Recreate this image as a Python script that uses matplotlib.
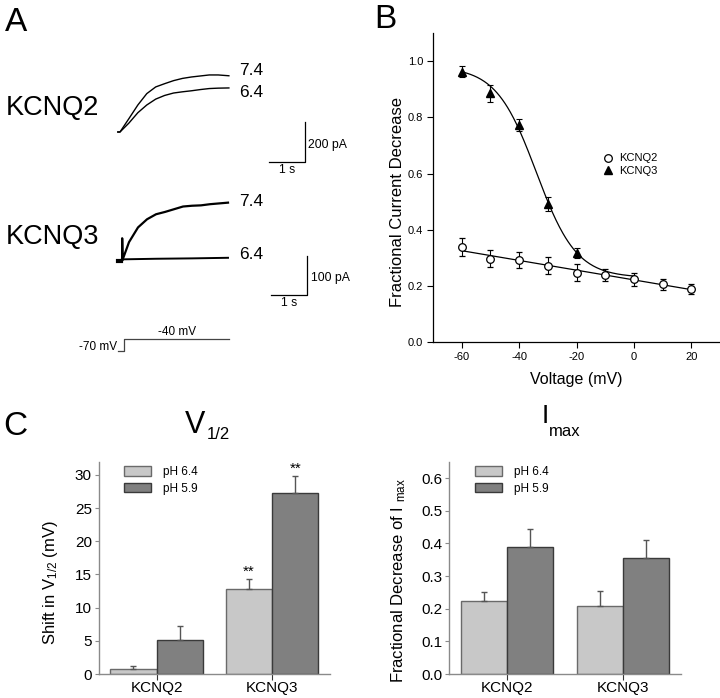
import numpy as np
import matplotlib
matplotlib.use('Agg')
import matplotlib.pyplot as plt
from matplotlib.lines import Line2D

plt.rcParams['font.family'] = ['Liberation Sans', 'DejaVu Sans']
plt.rcParams['mathtext.fontset'] = 'custom'
plt.rcParams['mathtext.rm'] = 'Liberation Sans'
plt.rcParams['mathtext.it'] = 'Liberation Sans:italic'

# ---------------- Data ----------------
# Panel A: current traces (time in s, current in pA)
q2_t = [-0.06, 0.0, 0.25, 0.5, 0.75, 1.0, 1.25, 1.5, 1.75, 2.0, 2.25, 2.5, 2.75, 3.05]
q2_i74 = [0, 0, 66, 133, 189, 222, 238, 253, 264, 271, 276, 281, 281, 277]
q2_i64 = [0, 0, 44, 95, 133, 162, 180, 192, 198, 203, 209, 214, 216, 217]

q3_t74 = [-0.06, 0.06, 0.06, 0.07, 0.25, 0.5, 0.75, 1.0, 1.25, 1.5, 1.75, 2.0, 2.25, 2.5, 2.75, 3.0]
q3_i74 = [0, 0, 58, 2, 48, 86, 107, 120, 126, 133, 140, 142, 143, 146, 148, 150]
q3_t64 = [-0.06, 0.07, 1.0, 2.0, 3.0]
q3_i64 = [0, 3.5, 5, 6, 7.5]

prot_t = [-0.05, 0.11, 0.11, 3.06]
prot_v = [-70, -70, -40, -40]

# Panel B
volt_q2 = [-60, -50, -40, -30, -20, -10, 0, 10, 20]
frac_q2 = [0.338, 0.297, 0.294, 0.273, 0.248, 0.239, 0.224, 0.206, 0.190]
err_q2 = [0.032, 0.030, 0.028, 0.030, 0.030, 0.022, 0.024, 0.020, 0.018]
volt_q3 = [-60, -50, -40, -30, -20]
frac_q3 = [0.962, 0.885, 0.773, 0.493, 0.319]
err_q3 = [0.020, 0.031, 0.022, 0.025, 0.018]
# Boltzmann fit parameters for KCNQ3
b_top, b_bot, b_v50, b_k = 0.98, 0.23, -34.0, 7.0

# Panel C
channels = ['KCNQ2', 'KCNQ3']
conds = ['pH 6.4', 'pH 5.9']
v12_64 = [0.8, 12.8]
v12_64_err = [0.4, 1.5]
v12_59 = [5.2, 27.3]
v12_59_err = [2.1, 2.6]
imax_64 = [0.222, 0.209]
imax_64_err = [0.030, 0.046]
imax_59 = [0.389, 0.356]
imax_59_err = [0.056, 0.053]

# ---------------- Figure ----------------
W, H = 720, 698
fig = plt.figure(figsize=(W / 100, H / 100), dpi=100)


def ax_px(x0, y0, x1, y1):
    return fig.add_axes([x0 / W, 1 - y1 / H, (x1 - x0) / W, (y1 - y0) / H])


def ftext(x, y, s, **kw):
    fig.text(x / W, 1 - y / H, s, **kw)


# Panel letters
ftext(5, 31, 'A', fontsize=24, va='baseline')
ftext(374, 28, 'B', fontsize=24, va='baseline')
ftext(3, 435, 'C', fontsize=24, va='baseline')

# ---- Panel A ----
ftext(6, 108, 'KCNQ2', fontsize=19.5, va='center')
ftext(6, 237, 'KCNQ3', fontsize=19.5, va='center')

a2 = ax_px(100, 55, 340, 180)
a2.set_xlim(-0.560, 6.162)
a2.set_ylim(-236.5, 379.3)
a2.axis('off')
a2.plot(q2_t, q2_i74, color='black', lw=1.0)
a2.plot(q2_t, q2_i64, color='black', lw=1.0)
a2.text(3.33, 304, '7.4', fontsize=12.5, va='center', ha='left')
a2.text(3.33, 197, '6.4', fontsize=12.5, va='center', ha='left')
a2.plot([4.18, 5.18, 5.18], [-149.3, -149.3, 50.7], color='black', lw=0.9)
a2.text(5.27, -64, '200 pA', fontsize=8.8, va='center', ha='left')
a2.text(4.68, -189, '1 s', fontsize=8.8, va='center', ha='center')

a3 = ax_px(100, 185, 340, 310)
a3.set_xlim(-0.556, 6.111)
a3.set_ylim(-127.4, 195.6)
a3.axis('off')
a3.plot(q3_t74, q3_i74, color='black', lw=1.6)
a3.plot(q3_t64, q3_i64, color='black', lw=1.4)
a3.plot([-0.06, 0.04], [0, 0], color='black', lw=3)
a3.text(3.31, 152, '7.4', fontsize=12.5, va='center', ha='left')
a3.text(3.31, 15, '6.4', fontsize=12.5, va='center', ha='left')
a3.plot([4.19, 5.19, 5.19], [-87.9, -87.9, 12.1], color='black', lw=0.9)
a3.text(5.30, -45.5, '100 pA', fontsize=8.8, va='center', ha='left')
a3.text(4.69, -110, '1 s', fontsize=8.8, va='center', ha='center')

ap = ax_px(60, 320, 240, 360)
ap.set_xlim(-1.681, 3.361)
ap.set_ylim(-94.5, 10.8)
ap.axis('off')
ap.plot(prot_t, prot_v, color='#444444', lw=0.9)
ap.text(-0.09, -60, '-70 mV', fontsize=8.5, va='center', ha='right')
ap.text(1.59, -20, '-40 mV', fontsize=8.5, va='center', ha='center')

# ---- Panel B ----
ab = ax_px(433, 33, 720, 342.3)
ab.set_xlim(-70, 30)
ab.set_ylim(0, 1.1)
for s in ['top', 'right']:
    ab.spines[s].set_visible(False)
for s in ['left', 'bottom']:
    ab.spines[s].set_linewidth(0.9)
ab.tick_params(direction='out', length=4, width=0.8, labelsize=8, pad=3)
ab.set_xticks([-60, -40, -20, 0, 20])
ab.set_xticklabels(['-60', '-40', '-20', '0', '20'])
ab.set_yticks([0.0, 0.2, 0.4, 0.6, 0.8, 1.0])
ab.set_yticklabels(['0.0', '0.2', '0.4', '0.6', '0.8', '1.0'])

coef = np.polyfit(volt_q2, frac_q2, 1)
vl = np.array([min(volt_q2), max(volt_q2)])
ab.plot(vl, np.polyval(coef, vl), color='black', lw=0.9)
vv = np.linspace(-60, 0, 200)
ab.plot(vv, b_bot + (b_top - b_bot) / (1 + np.exp((vv - b_v50) / b_k)), color='black', lw=0.9)

ab.errorbar(volt_q3, frac_q3, yerr=err_q3, fmt='^', color='black', mfc='black', ms=6,
            capsize=2, elinewidth=0.8, capthick=0.8, zorder=3)
ab.errorbar(volt_q2, frac_q2, yerr=err_q2, fmt='o', color='black', mfc='white', ms=5.5,
            mew=0.9, capsize=2, elinewidth=0.8, capthick=0.8, zorder=4)
handles = [Line2D([], [], ls='none', marker='o', color='black', mfc='white', ms=5.5, mew=0.9),
           Line2D([], [], ls='none', marker='^', color='black', mfc='black', ms=6)]
ab.legend(handles, ['KCNQ2', 'KCNQ3'], loc='upper left', bbox_to_anchor=(0.574, 0.625),
          frameon=False, fontsize=8, handlelength=1.0, handletextpad=0.5,
          labelspacing=0.25, borderaxespad=0)
ab.set_xlabel('Voltage (mV)', fontsize=11.5, labelpad=7)
ab.set_ylabel('Fractional Current Decrease', fontsize=12)
ab.yaxis.set_label_coords(-0.096, 0.454)

# ---- Panel C ----
light = '#c8c8c8'
dark = '#808080'
edge_l = '#6a6a6a'
edge_d = '#3a3a3a'
spine_c = '#8a8a8a'
x = np.arange(len(channels))
bw = 0.4


def bar_panel(ax, v64, e64, v59, e59, ylim, yticks, ylabels, ylabel):
    ax.set_xlim(-0.5, 1.5)
    ax.set_ylim(*ylim)
    ax.bar(x - bw / 2, v64, bw, color=light, edgecolor=edge_l, linewidth=1.0,
           yerr=[np.zeros(len(v64)), e64], capsize=2,
           error_kw=dict(ecolor='#555555', elinewidth=1.0, capthick=1.0), label=conds[0])
    ax.bar(x + bw / 2, v59, bw, color=dark, edgecolor=edge_d, linewidth=1.0,
           yerr=[np.zeros(len(v59)), e59], capsize=2,
           error_kw=dict(ecolor='#555555', elinewidth=1.0, capthick=1.0), label=conds[1])
    for s in ['top', 'right']:
        ax.spines[s].set_visible(False)
    for s in ['left', 'bottom']:
        ax.spines[s].set_color(spine_c)
        ax.spines[s].set_linewidth(1.0)
    ax.set_xticks(x)
    ax.set_xticklabels(channels, fontsize=11)
    ax.set_yticks(yticks)
    ax.set_yticklabels(ylabels, fontsize=11)
    ax.tick_params(axis='y', direction='out', length=3, color=spine_c, pad=2)
    ax.tick_params(axis='x', direction='out', length=4, color='#333333', pad=1)
    ax.set_ylabel(ylabel, fontsize=12)
    ax.legend(loc='upper left', bbox_to_anchor=(0.09, 1.0), frameon=False, fontsize=8.5,
              handlelength=2.3, handleheight=0.9, handletextpad=1.0, labelspacing=0.35,
              borderaxespad=0)


c1 = ax_px(98.8, 461.7, 330, 674)
bar_panel(c1, v12_64, v12_64_err, v12_59, v12_59_err, (0, 32),
          [0, 5, 10, 15, 20, 25, 30], ['0', '5', '10', '15', '20', '25', '30'],
          r'Shift in V$_{\mathregular{1/2}}$ (mV)')
c1.yaxis.set_label_coords(-(98.8 - 59.5) / 231.2, 0.433)
for xi, top in zip([x[1] - bw / 2, x[1] + bw / 2], [v12_64[1] + v12_64_err[1], v12_59[1] + v12_59_err[1]]):
    c1.text(xi, top, '**', fontsize=11, ha='center', va='bottom')

c2 = ax_px(449.3, 461.7, 680.7, 674)
bar_panel(c2, imax_64, imax_64_err, imax_59, imax_59_err, (0, 0.65),
          [0, 0.1, 0.2, 0.3, 0.4, 0.5, 0.6], ['0.0', '0.1', '0.2', '0.3', '0.4', '0.5', '0.6'],
          r'Fractional Decrease of I $_{\mathregular{max}}$')
c2.yaxis.set_label_coords(-(449.3 - 408) / 231.4, 0.443)

# Titles for panel C
ftext(205, 433, 'V', fontsize=22, ha='right', va='baseline')
ftext(207, 439, '1/2', fontsize=12, ha='left', va='baseline')
ftext(549, 423.5, 'I', fontsize=19, ha='right', va='baseline')
ftext(549, 436, 'max', fontsize=12, ha='left', va='baseline')

fig.savefig('out.png', dpi=100)
